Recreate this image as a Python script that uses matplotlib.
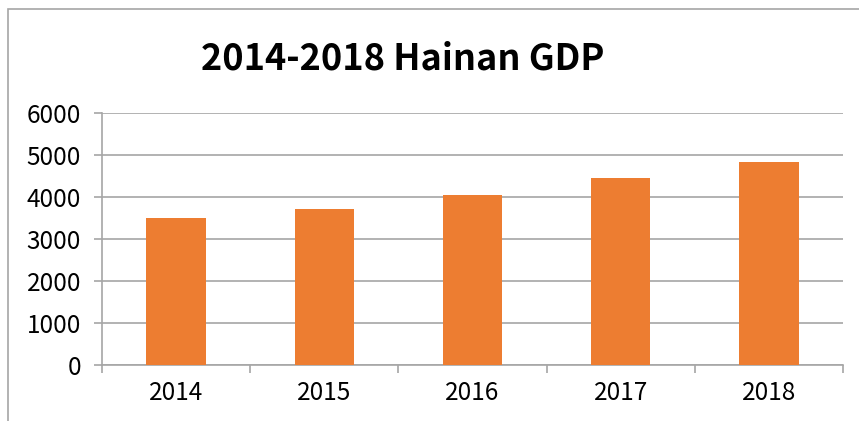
import matplotlib.pyplot as plt
from matplotlib.patches import Rectangle
import numpy as np

years = ["2014", "2015", "2016", "2017", "2018"]
gdp = [3500.7, 3702.8, 4053.2, 4462.5, 4832.1]
yticks = [0, 1000, 2000, 3000, 4000, 5000, 6000]

plt.rcParams['font.family'] = ['Noto Sans CJK SC', 'DejaVu Sans']
grey = '#a6a6a6'

fig = plt.figure(figsize=(8.59, 4.21), dpi=100)

# outer chart frame (only top and left edges visible)
fig.patches.append(Rectangle((8 / 859, -0.5), 2, (421 - 9) / 421 + 0.5,
                             transform=fig.transFigure, fill=False,
                             edgecolor=grey, linewidth=1.2))

ax = fig.add_axes([102 / 859, 56 / 421, 741 / 859, 252 / 421])
x = np.arange(len(years))
ax.bar(x, gdp, width=0.4, color='#ED7D31', zorder=3)

ax.set_xlim(-0.5, len(years) - 0.5)
ax.set_ylim(0, 6000)
ax.set_yticks(yticks)
ax.set_xticks(x)
ax.set_xticklabels(years)
ax.set_xticks(np.arange(-0.5, len(years)), minor=True)
ax.tick_params(axis='x', which='major', length=0, labelsize=17.5, pad=11)
ax.tick_params(axis='x', which='minor', length=6, color=grey, width=1.2)
ax.tick_params(axis='y', length=6, color=grey, width=1.2, labelsize=17.5, pad=9)
ax.grid(axis='y', color=grey, linewidth=1.2, zorder=0)

for s in ['top', 'right']:
    ax.spines[s].set_visible(False)
for s in ['left', 'bottom']:
    ax.spines[s].set_color(grey)
    ax.spines[s].set_linewidth(1.2)

fig.text(403 / 859, 1 - 59 / 421, "2014-2018 Hainan GDP", ha='center', va='center',
         fontsize=26, fontweight='bold')

plt.savefig('out.png', dpi=100)
